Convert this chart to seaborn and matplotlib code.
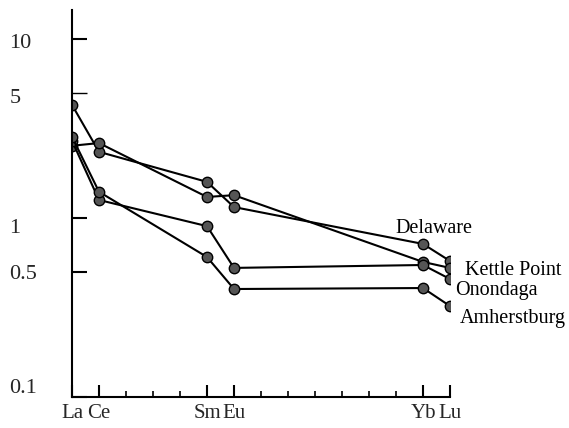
import matplotlib
matplotlib.use('Agg')
import matplotlib.pyplot as plt
import matplotlib.transforms as mtransforms
import seaborn as sns
import pandas as pd
from matplotlib.ticker import FixedLocator, NullLocator, FixedFormatter

# ---- data ----
elements = ['La', 'Ce', 'Sm', 'Eu', 'Yb', 'Lu']
atomic_numbers = [57, 58, 62, 63, 70, 71]
delaware = [4.28, 2.34, 1.59, 1.15, 0.716, 0.575]
kettle_point = [2.53, 2.62, 1.31, 1.34, 0.568, 0.526]
onondaga = [2.70, 1.26, 0.90, 0.526, 0.546, 0.456]
amherstburg = [2.84, 1.40, 0.605, 0.401, 0.406, 0.322]
series_names = ['Delaware', 'Kettle Point', 'Onondaga', 'Amherstburg']
y_ticks = [0.1, 0.5, 1, 5, 10]
y_tick_labels = ['0.1', '0.5', '1', '5', '10']

series_values = [delaware, kettle_point, onondaga, amherstburg]
rows = []
for name, vals in zip(series_names, series_values):
    for el, z, v in zip(elements, atomic_numbers, vals):
        rows.append({'Series': name, 'Element': el, 'Z': z, 'Value': v})
df = pd.DataFrame(rows)

sns.set_theme(style='white')
plt.rcParams['font.family'] = ['Liberation Serif', 'DejaVu Serif']

fig = plt.figure(figsize=(5.69, 4.28), dpi=100)
ax = fig.add_axes([72 / 569, 31 / 428, (450 - 72) / 569, (397 - 10) / 428])

sns.lineplot(data=df, x='Z', y='Value', hue='Series', units='Series',
             estimator=None, palette=['black'] * 4, marker='o',
             markersize=7.5, markerfacecolor='#555555', markeredgecolor='black',
             markeredgewidth=1.0, linewidth=1.5, legend=False, ax=ax)

ax.set_yscale('log')
ax.set_ylim(0.1, 14.5)
ax.set_xlim(57, 71)

# label annotations (anchor element index, offset in points)
label_pos = {
    'Delaware': (4, -20, 11),
    'Kettle Point': (5, 11, -2),
    'Onondaga': (5, 4, -8),
    'Amherstburg': (5, 7, -9),
}
for name, vals in zip(series_names, series_values):
    idx, dx, dy = label_pos[name]
    ax.annotate(name, (atomic_numbers[idx], vals[idx]), xytext=(dx, dy),
                textcoords='offset points', ha='left', va='center',
                fontsize=14.5, color='black')

# axes styling
for s in ['top', 'right']:
    ax.spines[s].set_visible(False)
for s in ['left', 'bottom']:
    ax.spines[s].set_linewidth(1.5)
    ax.spines[s].set_color('black')

ax.yaxis.set_major_locator(FixedLocator(y_ticks))
ax.yaxis.set_major_formatter(FixedFormatter(y_tick_labels))
ax.yaxis.set_minor_locator(NullLocator())
ax.tick_params(axis='y', which='major', direction='in', length=11, width=1.5,
               color='black', pad=45, labelsize=16, left=True)
ytl = ax.yaxis.get_major_ticks()
label_shift_px = {0.1: 11, 1: -8, 5: -3, 10: -2}
for t, v in zip(ytl, y_ticks):
    t.label1.set_horizontalalignment('left')
    if v in label_shift_px:
        off = mtransforms.ScaledTranslation(0, label_shift_px[v] / 100, fig.dpi_scale_trans)
        t.label1.set_transform(t.label1.get_transform() + off)
    if v == 5:
        t.tick1line.set_markeredgewidth(1.0)
        t.tick1line.set_color('#777777')

ax.xaxis.set_major_locator(FixedLocator(atomic_numbers))
ax.xaxis.set_major_formatter(FixedFormatter(elements))
ax.xaxis.set_minor_locator(FixedLocator(list(range(57, 72))))
ax.tick_params(axis='x', which='major', direction='in', length=9, width=1.5,
               color='black', pad=5, labelsize=15, bottom=True)
ax.tick_params(axis='x', which='minor', direction='in', length=4, width=1.2,
               color='black', bottom=True)
ax.set_xlabel('')
ax.set_ylabel('')
ax.grid(False)

fig.savefig('out.png', dpi=100)
